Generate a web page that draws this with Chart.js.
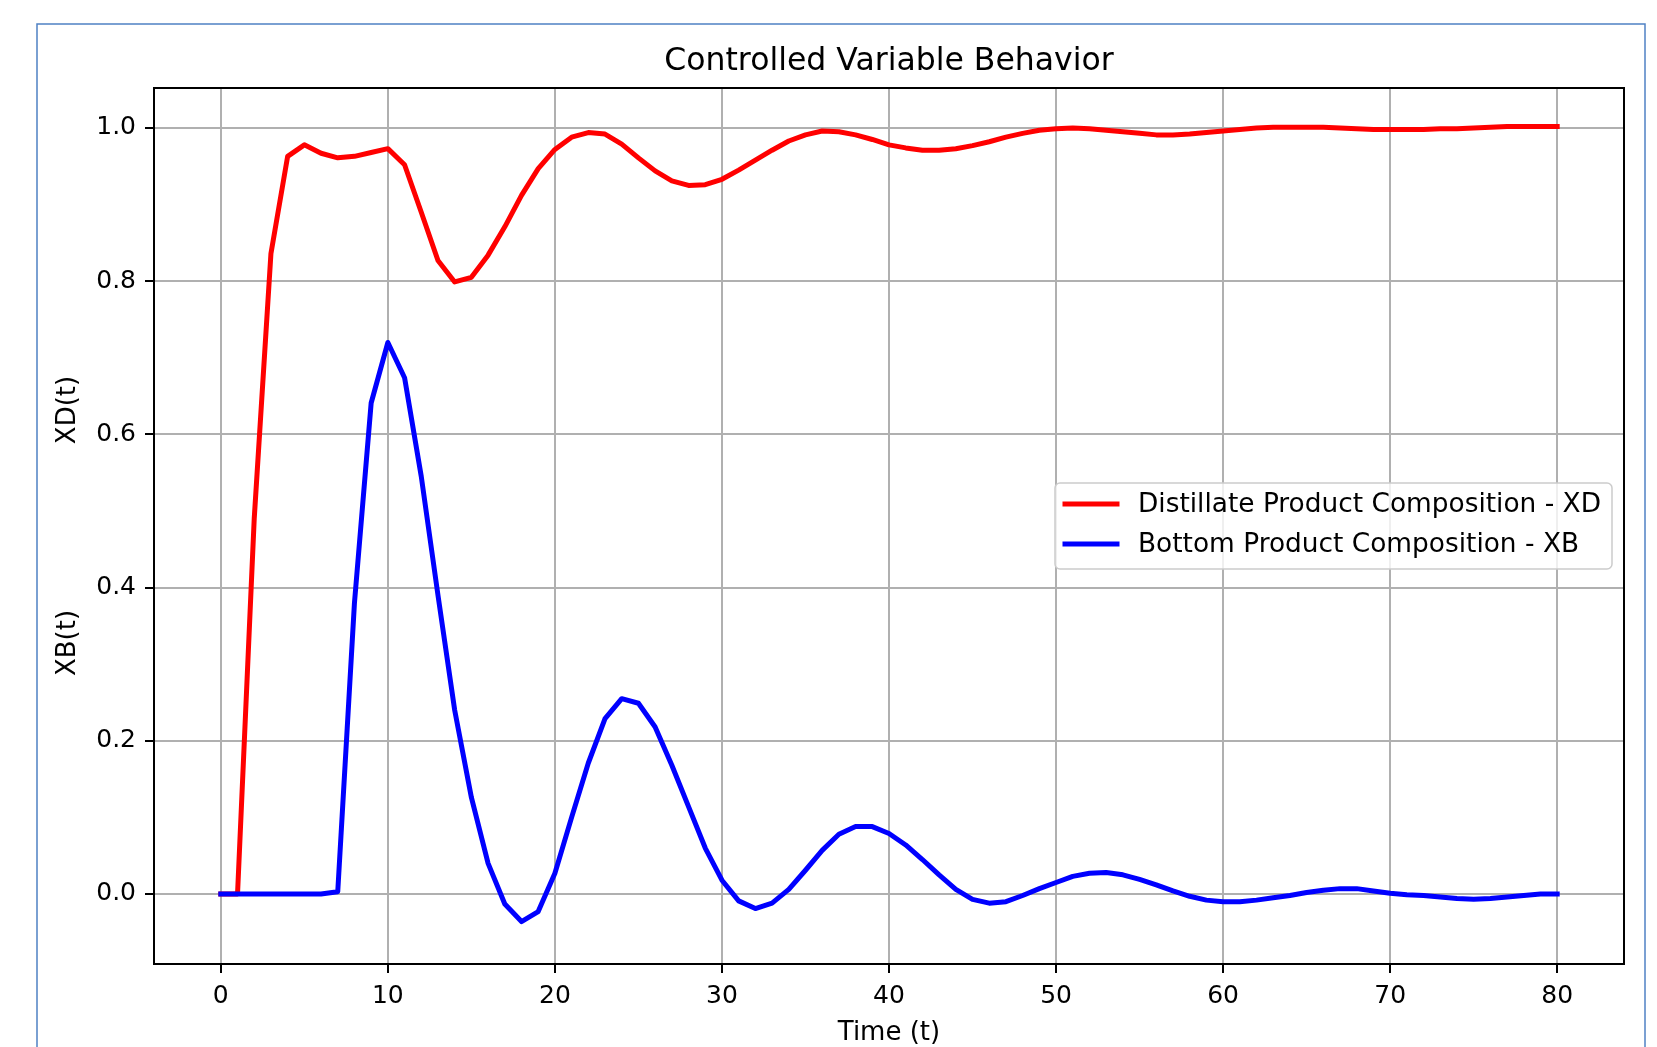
<!DOCTYPE html>
<html>
<head>
<meta charset="utf-8">
<title>Controlled Variable Behavior</title>
<script src="https://cdn.jsdelivr.net/npm/chart.js@4.4.0/dist/chart.umd.min.js"></script>
<style>
  html, body { margin: 0; padding: 0; background: #fff; }
  #wrap { width: 1657px; height: 1047px; }
</style>
</head>
<body>
<div id="wrap"><canvas id="controlled" width="1657" height="1047"></canvas></div>
<script>
// sample times (t)
const time = [0, 1, 2, 3, 4, 5, 6, 7, 8, 9, 10, 11, 12, 13, 14, 15, 16, 17, 18, 19,
  20, 21, 22, 23, 24, 25, 26, 27, 28, 29, 30, 31, 32, 33, 34, 35, 36, 37, 38, 39,
  40, 41, 42, 43, 44, 45, 46, 47, 48, 49, 50, 51, 52, 53, 54, 55, 56, 57, 58, 59,
  60, 61, 62, 63, 64, 65, 66, 67, 68, 69, 70, 71, 72, 73, 74, 75, 76, 77, 78, 79, 80];

// distillate composition XD(t)
const xdValues = [0, 0, 0.49, 0.836, 0.963, 0.978, 0.967, 0.961, 0.963, 0.968,
  0.973, 0.952, 0.890, 0.827, 0.799, 0.805, 0.834, 0.871, 0.912, 0.947,
  0.972, 0.988, 0.994, 0.992, 0.979, 0.961, 0.944, 0.931, 0.925, 0.926,
  0.933, 0.945, 0.958, 0.971, 0.983, 0.991, 0.996, 0.995, 0.991, 0.985,
  0.978, 0.974, 0.971, 0.971, 0.973, 0.977, 0.982, 0.988, 0.993, 0.997,
  0.999, 1.000, 0.999, 0.997, 0.995, 0.993, 0.991, 0.991, 0.992, 0.994,
  0.996, 0.998, 1.000, 1.001, 1.001, 1.001, 1.001, 1.000, 0.999, 0.998,
  0.998, 0.998, 0.998, 0.999, 0.999, 1.000, 1.001, 1.002, 1.002, 1.002, 1.002];

// bottom composition XB(t)
const xbValues = [0, 0, 0, 0, 0, 0, 0, 0.003, 0.38, 0.641,
  0.720, 0.674, 0.545, 0.390, 0.240, 0.126, 0.040, -0.013, -0.036, -0.023,
  0.027, 0.100, 0.171, 0.229, 0.255, 0.249, 0.218, 0.168, 0.114, 0.060,
  0.018, -0.009, -0.019, -0.012, 0.006, 0.031, 0.057, 0.078, 0.088, 0.088,
  0.079, 0.064, 0.045, 0.025, 0.006, -0.007, -0.012, -0.010, -0.002, 0.007,
  0.015, 0.023, 0.027, 0.028, 0.025, 0.019, 0.012, 0.004, -0.003, -0.008,
  -0.010, -0.010, -0.008, -0.005, -0.002, 0.002, 0.005, 0.007, 0.007, 0.004,
  0.001, -0.001, -0.002, -0.004, -0.006, -0.007, -0.006, -0.004, -0.002, 0.000, 0.000];

const xTicks = [0, 10, 20, 30, 40, 50, 60, 70, 80];
const yTicks = [0.0, 0.2, 0.4, 0.6, 0.8, 1.0];
const seriesLabels = ['Distillate Product Composition - XD', 'Bottom Product Composition - XB'];
const seriesColors = ['#ff0000', '#0000ff'];

const FONT = "'DejaVu Sans', 'Liberation Sans', sans-serif";

function toPoints(xs, ys) {
  let pts = [];
  for (var i = 0; i < xs.length; i++) {
    pts.push({x: xs[i], y: ys[i]});
  }
  return pts;
}

// title, axis labels, frame, spines and legend (matplotlib look)
const decorations = {
  id: 'decorations',
  beforeDraw(chart) {
    const ctx = chart.ctx;
    ctx.save();
    ctx.fillStyle = '#fff';
    ctx.fillRect(0, 0, chart.width, chart.height);
    ctx.strokeStyle = '#4f81c4';
    ctx.lineWidth = 1.5;
    ctx.strokeRect(37, 24, 1608, 1100);
    ctx.restore();
  },
  afterDraw(chart) {
    const ctx = chart.ctx;
    const area = chart.chartArea;
    const cx = (area.left + area.right) / 2;
    ctx.save();

    // spines
    ctx.strokeStyle = '#000';
    ctx.lineWidth = 2;
    ctx.strokeRect(area.left, area.top, area.right - area.left, area.bottom - area.top);

    ctx.fillStyle = '#000';
    ctx.textAlign = 'center';
    ctx.textBaseline = 'middle';
    ctx.font = '31.5px ' + FONT;
    ctx.fillText('Controlled Variable Behavior', cx, 62);

    ctx.font = '26px ' + FONT;
    ctx.fillText('Time (t)', cx, 1033);

    ctx.save();
    ctx.translate(68, 410);
    ctx.rotate(-Math.PI / 2);
    ctx.fillText('XD(t)', 0, 0);
    ctx.restore();
    ctx.save();
    ctx.translate(68, 643);
    ctx.rotate(-Math.PI / 2);
    ctx.fillText('XB(t)', 0, 0);
    ctx.restore();

    // legend, center right
    const lx = 1055, ly = 483, lw = 557, lh = 86;
    ctx.beginPath();
    ctx.roundRect(lx, ly, lw, lh, 5);
    ctx.fillStyle = 'rgba(255,255,255,0.8)';
    ctx.fill();
    ctx.strokeStyle = '#cccccc';
    ctx.lineWidth = 1.5;
    ctx.stroke();

    const ds = chart.data.datasets;
    ctx.textAlign = 'left';
    ctx.font = '26.4px ' + FONT;
    for (var i = 0; i < ds.length; i++) {
      const yy = 504 + i * 40;
      ctx.beginPath();
      ctx.strokeStyle = ds[i].borderColor;
      ctx.lineWidth = 5;
      ctx.lineCap = 'square';
      ctx.moveTo(1065, yy);
      ctx.lineTo(1117, yy);
      ctx.stroke();
      ctx.fillStyle = '#000';
      ctx.fillText(ds[i].label, 1138, yy + 1);
    }
    ctx.restore();
  }
};

const ctx = document.getElementById('controlled').getContext('2d');
const chart = new Chart(ctx, {
  type: 'line',
  data: {
    datasets: [{
      label: seriesLabels[0],
      data: toPoints(time, xdValues),
      borderColor: seriesColors[0],
      borderWidth: 5,
      borderJoinStyle: 'round',
      borderCapStyle: 'square',
      pointRadius: 0,
      tension: 0,
      fill: false,
      order: 1
    }, {
      label: seriesLabels[1],
      data: toPoints(time, xbValues),
      borderColor: seriesColors[1],
      borderWidth: 5,
      borderJoinStyle: 'round',
      borderCapStyle: 'square',
      pointRadius: 0,
      tension: 0,
      fill: false,
      order: 0
    }]
  },
  options: {
    responsive: false,
    animation: false,
    layout: {
      padding: {top: 88, right: 33, left: 0, bottom: 0}
    },
    plugins: {
      legend: {display: false},
      title: {display: false},
      tooltip: {enabled: false}
    },
    scales: {
      x: {
        type: 'linear',
        min: -4,
        max: 84,
        afterBuildTicks: function(scale) {
          scale.ticks = xTicks.map(v => ({value: v}));
        },
        afterFit: function(scale) {
          scale.height = 83;
        },
        border: {display: false},
        grid: {
          color: '#b0b0b0',
          lineWidth: 2,
          drawTicks: true,
          tickLength: 9,
          tickColor: '#000',
          tickWidth: 2
        },
        ticks: {
          color: '#000',
          font: {family: FONT, size: 25},
          padding: 8,
          maxRotation: 0,
          autoSkip: false,
          callback: v => String(v)
        }
      },
      y: {
        type: 'linear',
        min: -0.0914,
        max: 1.0522,
        afterBuildTicks: function(scale) {
          scale.ticks = yTicks.map(v => ({value: v}));
        },
        afterFit: function(scale) {
          scale.width = 154;
        },
        border: {display: false},
        grid: {
          color: '#b0b0b0',
          lineWidth: 2,
          drawTicks: true,
          tickLength: 9,
          tickColor: '#000',
          tickWidth: 2
        },
        ticks: {
          color: '#000',
          font: {family: FONT, size: 25},
          padding: 9,
          autoSkip: false,
          callback: v => v.toFixed(1)
        }
      }
    }
  },
  plugins: [decorations]
});
</script>
</body>
</html>
